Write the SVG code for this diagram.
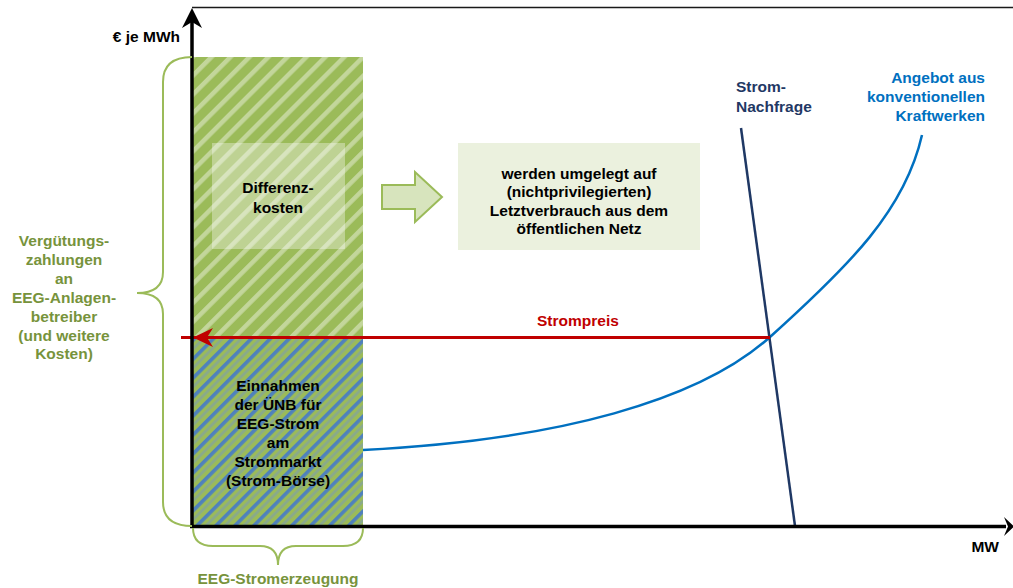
<svg xmlns="http://www.w3.org/2000/svg" width="1013" height="588" viewBox="0 0 1013 588">
  <style>
    text { font-family: "Liberation Sans", Arial, sans-serif; font-weight: bold; font-size: 15.5px; }
    .dark { fill: #000000; }
    .green { fill: #77933C; }
    .navy { fill: #1F3864; }
    .blue { fill: #0070C0; }
    .red { fill: #C00000; }
    .brace { fill: none; stroke: #9BBB59; stroke-width: 2; }
    .axis { fill: none; stroke: #000000; stroke-width: 3.5; }
  </style>
  <defs>
    <!-- light diagonal stripes on green -->
    <pattern id="hatchUpper" patternUnits="userSpaceOnUse" width="13.4" height="13.4" patternTransform="rotate(45)">
      <rect width="13.4" height="13.4" fill="#9BBB59"/>
      <rect width="4.5" height="13.4" fill="#C3D69B"/>
    </pattern>
    <!-- blue diagonal stripes on green -->
    <pattern id="hatchLower" patternUnits="userSpaceOnUse" width="13.4" height="13.4" patternTransform="rotate(45)">
      <rect width="13.4" height="13.4" fill="#9BBB59"/>
      <rect x="0" width="3.6" height="13.4" fill="#4F81BD"/>
      <rect x="6.7" width="2.8" height="13.4" fill="#8AAA8A"/>
    </pattern>
  </defs>

  <rect width="1013" height="588" fill="#FFFFFF"/>

  <!-- stacked bar: EEG payments -->
  <g id="eeg-bar">
    <rect x="192" y="57" width="171" height="281" fill="url(#hatchUpper)"/>
    <rect x="192" y="338" width="171" height="188" fill="url(#hatchLower)"/>
  </g>

  <g id="differenzkosten">
    <rect x="212" y="143" width="133" height="106" fill="#FFFFFF" fill-opacity="0.35"/>
    <text x="278" y="192.5" text-anchor="middle" class="dark">Differenz-</text>
    <text x="278" y="212.5" text-anchor="middle" class="dark">kosten</text>
  </g>

  <g id="einnahmen">
    <text x="278" y="390.5" text-anchor="middle" class="dark">Einnahmen</text>
    <text x="278" y="409.5" text-anchor="middle" class="dark">der ÜNB für</text>
    <text x="278" y="428.5" text-anchor="middle" class="dark">EEG-Strom</text>
    <text x="278" y="447.5" text-anchor="middle" class="dark">am</text>
    <text x="278" y="466.5" text-anchor="middle" class="dark">Strommarkt</text>
    <text x="278" y="485.5" text-anchor="middle" class="dark">(Strom-Börse)</text>
  </g>

  <g id="umlage-arrow">
    <polygon points="382,185 415,185 415,172 442,197 415,222 415,209 382,209" fill="#D7E4BD" stroke="#9BBB59" stroke-width="2" stroke-linejoin="miter"/>
  </g>

  <g id="umlage-box">
    <rect x="458" y="143" width="242" height="107" fill="#EBF1DE"/>
    <text x="579" y="178.5" text-anchor="middle" class="dark">werden umgelegt auf</text>
    <text x="579" y="197" text-anchor="middle" class="dark">(nichtprivilegierten)</text>
    <text x="579" y="215.5" text-anchor="middle" class="dark">Letztverbrauch aus dem</text>
    <text x="579" y="234" text-anchor="middle" class="dark">öffentlichen Netz</text>
  </g>

  <!-- frame line along the top -->
  <line x1="192" y1="7.5" x2="1013" y2="7.5" stroke="#1A1A1A" stroke-width="1.5"/>

  <g id="connectors">
    <!-- supply curve -->
    <path d="M363,450 C560,440 700,400 770,337 C850,265 905,210 922,135" fill="none" stroke="#0070C0" stroke-width="2.5"/>
    <!-- demand line -->
    <line x1="741" y1="128" x2="795" y2="526" stroke="#1F3864" stroke-width="2.5"/>
    <!-- price line -->
    <line x1="181" y1="337.5" x2="770" y2="337.5" stroke="#C00000" stroke-width="3"/>
    <polygon points="193,337.5 213,328 207,337.5 213,347" fill="#C00000"/>
    <!-- axes -->
    <line class="axis" x1="192" y1="527" x2="192" y2="16"/>
    <polygon points="192,8 202,28 192,22 182,28" fill="#000000"/>
    <line class="axis" x1="190" y1="526.5" x2="1006" y2="526.5"/>
    <polygon points="1014,526.5 1004,517 1008,526.5 1004,536" fill="#000000"/>
  </g>

  <g id="braces">
    <path class="brace" d="M192,57 Q163,57 163,82 L163,272 Q163,293 137,293 Q163,293 163,314 L163,502 Q163,526 192,526"/>
    <path class="brace" d="M193,528 Q193,546 213,546 L260,546 Q278,546 278,565 Q278,546 296,546 L343,546 Q363,546 363,528"/>
  </g>

  <g id="labels">
    <text x="180" y="42" text-anchor="end" class="dark">€ je MWh</text>
    <text x="999" y="552" text-anchor="end" class="dark">MW</text>
    <text x="537" y="326" class="red">Strompreis</text>
    <text x="736" y="92" class="navy">Strom-</text>
    <text x="736" y="111.5" class="navy">Nachfrage</text>
    <text x="985" y="82.5" text-anchor="end" class="blue">Angebot aus</text>
    <text x="985" y="102" text-anchor="end" class="blue">konventionellen</text>
    <text x="985" y="120.5" text-anchor="end" class="blue">Kraftwerken</text>
    <text x="64" y="245.5" text-anchor="middle" class="green">Vergütungs-</text>
    <text x="64" y="264.5" text-anchor="middle" class="green">zahlungen</text>
    <text x="64" y="283.5" text-anchor="middle" class="green">an</text>
    <text x="64" y="302.5" text-anchor="middle" class="green">EEG-Anlagen-</text>
    <text x="64" y="321.5" text-anchor="middle" class="green">betreiber</text>
    <text x="64" y="340.5" text-anchor="middle" class="green">(und weitere</text>
    <text x="64" y="359" text-anchor="middle" class="green">Kosten)</text>
    <text x="278" y="583.5" text-anchor="middle" class="green">EEG-Stromerzeugung</text>
  </g>
</svg>
